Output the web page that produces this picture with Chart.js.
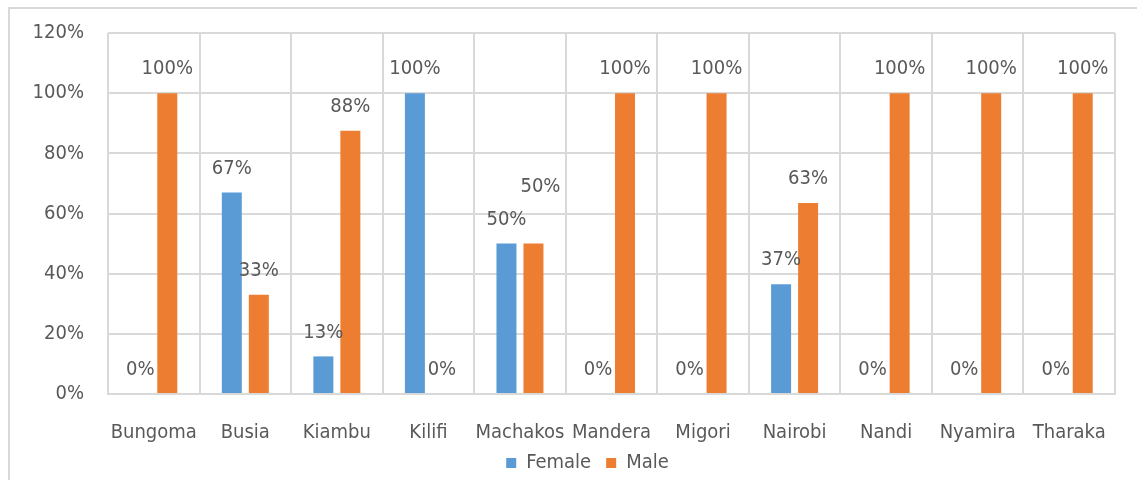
<!DOCTYPE html>
<html>
<head>
<meta charset="utf-8">
<script src="https://cdn.jsdelivr.net/npm/chart.js@4.4.0/dist/chart.umd.min.js"></script>
<style>
  html, body { margin: 0; padding: 0; background: #fff; overflow: hidden; }
  #wrap { position: relative; width: 1137px; height: 480px; overflow: hidden; }
  #frame { position: absolute; left: 8px; top: 7px; width: 1140px; height: 480px; border: 2px solid #d9d9d9; box-sizing: border-box; }
  canvas { position: absolute; left: 0; top: -3px; }
</style>
</head>
<body>
<div id="wrap">
  <div id="frame"></div>
  <canvas id="chart" width="1137" height="483"></canvas>
</div>
<script>
const counties = ['Bungoma', 'Busia', 'Kiambu', 'Kilifi', 'Machakos', 'Mandera', 'Migori', 'Nairobi', 'Nandi', 'Nyamira', 'Tharaka'];
const femaleShare = [0, 67, 12.5, 100, 50, 0, 0, 36.5, 0, 0, 0];
const maleShare = [100, 33, 87.5, 0, 50, 100, 100, 63.5, 100, 100, 100];
const femaleLabels = ['0%', '67%', '13%', '100%', '50%', '0%', '0%', '37%', '0%', '0%', '0%'];
const maleLabels = ['100%', '33%', '88%', '0%', '50%', '100%', '100%', '63%', '100%', '100%', '100%'];
const yTicks = [0, 20, 40, 60, 80, 100, 120];

const FONT = "'DejaVu Sans Condensed', 'Liberation Sans', sans-serif";
const FONT_SIZE = 20;
const TEXT = '#595959';
const GRID = '#d9d9d9';

// value labels above each bar; when the two labels of a county collide the second is lifted
const barLabels = {
    id: 'barLabels',
    afterDatasetsDraw(chart) {
        const ctx = chart.ctx;
        ctx.save();
        ctx.font = FONT_SIZE + 'px ' + FONT;
        ctx.fillStyle = TEXT;
        ctx.textAlign = 'center';
        ctx.textBaseline = 'middle';
        const texts = [femaleLabels, maleLabels];
        counties.forEach((c, i) => {
            let prev = null;
            chart.data.datasets.forEach((ds, d) => {
                const bar = chart.getDatasetMeta(d).data[i];
                const txt = texts[d][i];
                const w = ctx.measureText(txt).width;
                let x = bar.x;
                let y = bar.y - 24;
                if (prev && Math.abs(prev.x - x) < (prev.w + w) / 2 && Math.abs(prev.y - y) < 22) {
                    y = prev.y - 33;
                    x += 7;
                }
                ctx.fillText(txt, x, y);
                prev = { x: x, y: y, w: w };
            });
        });
        ctx.restore();
    }
};

// nudge the legend right and up a bit, like the original
const legendShift = {
    id: 'legendShift',
    afterLayout(chart) {
        chart.legend.left += 50;
        chart.legend.top -= 8;
        chart.legend.bottom -= 8;
    }
};

new Chart(document.getElementById('chart'), {
    type: 'bar',
    data: {
        labels: counties,
        datasets: [{
            label: 'Female',
            data: femaleShare,
            backgroundColor: '#5b9bd5',
            categoryPercentage: 0.59,
            barPercentage: 0.74
        }, {
            label: 'Male',
            data: maleShare,
            backgroundColor: '#ed7d31',
            categoryPercentage: 0.59,
            barPercentage: 0.74
        }]
    },
    options: {
        responsive: false,
        animation: false,
        layout: { padding: { left: 10, top: 24, right: 22, bottom: -11 } },
        plugins: {
            legend: {
                position: 'bottom',
                labels: {
                    color: TEXT,
                    font: { family: FONT, size: FONT_SIZE },
                    boxWidth: 10,
                    boxHeight: 10,
                    padding: 15
                }
            },
            tooltip: { enabled: false }
        },
        scales: {
            x: {
                grid: { color: GRID, lineWidth: 2, offset: true, drawTicks: false },
                border: { color: GRID, width: 2 },
                ticks: { color: TEXT, font: { family: FONT, size: FONT_SIZE }, padding: 27, maxRotation: 0, autoSkip: false },
                afterFit(scale) { scale.height = 52; }
            },
            y: {
                min: 0,
                max: 120,
                afterBuildTicks(scale) { scale.ticks = yTicks.map(v => ({ value: v })); },
                grid: { color: GRID, lineWidth: 2, drawTicks: false },
                border: { display: false },
                ticks: {
                    color: TEXT,
                    font: { family: FONT, size: FONT_SIZE },
                    padding: 24,
                    callback: v => v + '%'
                },
                afterFit(scale) { scale.width = 98; }
            }
        }
    },
    plugins: [barLabels, legendShift]
});
</script>
</body>
</html>
